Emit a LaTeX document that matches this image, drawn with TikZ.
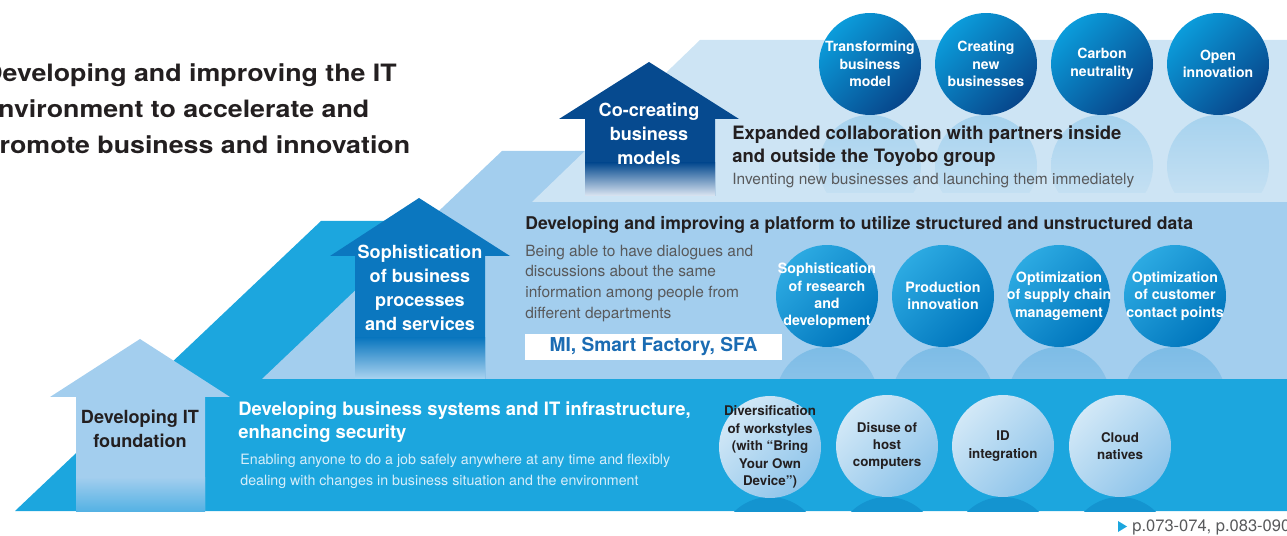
\documentclass[tikz,border=0pt]{standalone}
\usepackage{fontspec}
\setmainfont{TeX Gyre Heros}
\newfontfamily\titlefont{TeX Gyre Heros}[FakeStretch=1.12]
\usepackage{tikz}

\definecolor{lowband}{HTML}{1CA6DE}
\definecolor{midband}{HTML}{A3CEEE}
\definecolor{topband}{HTML}{CDE4F4}
\definecolor{arrowtop}{HTML}{064A8F}
\definecolor{arrowmid}{HTML}{0B77BF}
\definecolor{fadetop}{HTML}{DCE6F2}
\definecolor{fademid}{HTML}{AAD3F0}
\definecolor{fadelow}{HTML}{55B2E4}
\definecolor{topballA}{HTML}{0B9CDB}
\definecolor{topballB}{HTML}{07468B}
\definecolor{midballA}{HTML}{2CAAE2}
\definecolor{midballB}{HTML}{0075BC}
\definecolor{lowballA}{HTML}{D2E8F7}
\definecolor{lowballB}{HTML}{8EC4EA}
\definecolor{topshadow}{HTML}{A6D2EE}
\definecolor{midshadow}{HTML}{7DBCE6}
\definecolor{lowshadow}{HTML}{1494D0}
\definecolor{textdark}{HTML}{231F20}
\definecolor{textgray}{HTML}{58595B}
\definecolor{lowsub}{HTML}{D6EEFA}
\definecolor{mitext}{HTML}{1B6CB3}

\begin{document}
\begin{tikzpicture}[x=0.02cm, y=-0.02cm,
    ball/.style={circle, minimum size=2.04cm, inner sep=0pt},
    topball/.style={ball, top color=topballA, bottom color=topballB, shading angle=45,
        label={[align=center, text=white, font=\fontsize{8}{9.9}\selectfont\bfseries]center:#1}},
    midball/.style={ball, top color=midballA, bottom color=midballB, shading angle=45,
        label={[align=center, text=white, font=\fontsize{8.1}{9.9}\selectfont\bfseries]center:#1}},
    lowball/.style={ball, top color=lowballA, bottom color=lowballB, shading angle=45,
        label={[align=center, text=textdark, font=\fontsize{7.6}{9.9}\selectfont\bfseries]center:#1}},
    arrowtext/.style={align=center, inner sep=0pt, font=\fontsize{10.3}{13.6}\selectfont\bfseries},
    head/.style={anchor=west, align=left, inner sep=0pt, text=textdark, font=\fontsize{10.5}{13}\selectfont\bfseries},
    sub/.style={anchor=west, align=left, inner sep=0pt, text=textgray, font=\fontsize{8.8}{11.9}\selectfont}]
        \useasboundingbox (0,0) rectangle (1287,536);

        % Steps
        \fill[lowband] (15,511) -- (321,221) -- (1300,221) -- (1300,511) -- cycle;
        \fill[midband] (262,379) -- (502,151) -- (1300,151) -- (1300,379) -- cycle;
        \fill[topband] (532,202) -- (700,40) -- (1300,40) -- (1300,202) -- cycle;

        % Arrows
        \fill[midband] (76,511) -- (76,397) -- (50,397) -- (140,339) -- (230,397) -- (205,397) -- (205,511) -- cycle;
        \shade[top color=midband, bottom color=fadelow] (76,477) rectangle (205,511);
        \fill[arrowmid] (355,379) -- (355,256) -- (330,256) -- (419,198) -- (510,256) -- (485,256) -- (485,379) -- cycle;
        \shade[top color=arrowmid, bottom color=fademid] (355,338) rectangle (485,379);
        \fill[arrowtop] (585,196) -- (585,119) -- (559,119) -- (649,62) -- (739,119) -- (715,119) -- (715,196) -- cycle;
        \shade[top color=arrowtop, bottom color=fadetop] (585,163) rectangle (715,196);

        \node[arrowtext, text=textdark] (found) at (140,428.5) {Developing IT\\foundation};
        \node[arrowtext, text=white] (sophist) at (420,288) {Sophistication\\of business\\processes\\and services};
        \node[arrowtext, text=white] (cocreate) at (649,134) {Co-creating\\business\\models};

        % Reflections
        \begin{scope}
            \clip (800,115) rectangle (1300,193);
            \shade[top color=topshadow, bottom color=topband] (870,166) circle (51);
            \shade[top color=topshadow, bottom color=topband] (986,166) circle (51);
            \shade[top color=topshadow, bottom color=topband] (1102,166) circle (51);
            \shade[top color=topshadow, bottom color=topband] (1218,166) circle (51);
        \end{scope}
        \begin{scope}
            \clip (760,347) rectangle (1300,379);
            \shade[top color=midshadow, bottom color=midband] (827,398) circle (51);
            \shade[top color=midshadow, bottom color=midband] (943,398) circle (51);
            \shade[top color=midshadow, bottom color=midband] (1059,398) circle (51);
            \shade[top color=midshadow, bottom color=midband] (1175,398) circle (51);
        \end{scope}
        \begin{scope}
            \clip (700,497) rectangle (1300,511);
            \fill[lowshadow] (770,548) circle (51);
            \fill[lowshadow] (887,548) circle (51);
            \fill[lowshadow] (1003,548) circle (51);
            \fill[lowshadow] (1120,548) circle (51);
        \end{scope}

        % Balls
        \node[topball={Transforming\\business\\model}] (t1) at (870,64) {};
        \node[topball={Creating\\new\\businesses}] (t2) at (986,64) {};
        \node[topball={Carbon\\neutrality}] (t3) at (1102,64) {};
        \node[topball={Open\\innovation}] (t4) at (1218,64) {};

        \node[midball={Sophistication\\of research\\and\\development}] (m1) at (827,296) {};
        \node[midball={Production\\innovation}] (m2) at (943,296) {};
        \node[midball={Optimization\\of supply chain\\management}] (m3) at (1059,296) {};
        \node[midball={Optimization\\of customer\\contact points}] (m4) at (1175,296) {};

        \node[lowball={Diversification\\of workstyles\\(with “Bring\\Your Own\\Device”)}] (b1) at (770,447) {};
        \node[lowball={Disuse of\\host\\computers}] (b2) at (887,446) {};
        \node[lowball={ID\\integration}] (b3) at (1003,446) {};
        \node[lowball={Cloud\\natives}] (b4) at (1120,446) {};

        % Texts
        \node[anchor=west, align=left, inner sep=0pt, text=textdark, font=\titlefont\fontsize{13.6}{20.4}\selectfont\bfseries] (title) at (-17,111) {Developing and improving the IT\\environment to accelerate and\\promote business and innovation};

        \node[head] (tophead) at (732,146.5) {Expanded collaboration with partners inside\\and outside the Toyobo group};
        \node[sub] (topsub) at (732,181) {Inventing new businesses and launching them immediately};

        \node[head, font=\fontsize{10}{13}\selectfont\bfseries] (midhead) at (525,225) {Developing and improving a platform to utilize structured and unstructured data};
        \node[sub] (midsub) at (525,283.5) {Being able to have dialogues and\\discussions about the same\\information among people from\\different departments};
        \node[fill=white, minimum width=5.14cm, minimum height=0.52cm, inner sep=0pt, text=mitext, font=\fontsize{10.9}{13}\selectfont\bfseries] (mi) at (653.5,347) {MI, Smart Factory, SFA};

        \node[head, text=white] (lowhead) at (238,422) {Developing business systems and IT infrastructure,\\enhancing security};
        \node[sub, text=lowsub, font=\fontsize{8.1}{12}\selectfont] (lowsub) at (240,471.5) {Enabling anyone to do a job safely anywhere at any time and flexibly\\dealing with changes in business situation and the environment};

        % Footer
        \fill[lowband] (1118,521) -- (1127,526.5) -- (1118,532) -- cycle;
        \node[anchor=west, inner sep=0pt, text=textgray, font=\fontsize{9.4}{11}\selectfont] (pages) at (1132,527) {p.073-074, p.083-090};
    \end{tikzpicture}
\end{document}
